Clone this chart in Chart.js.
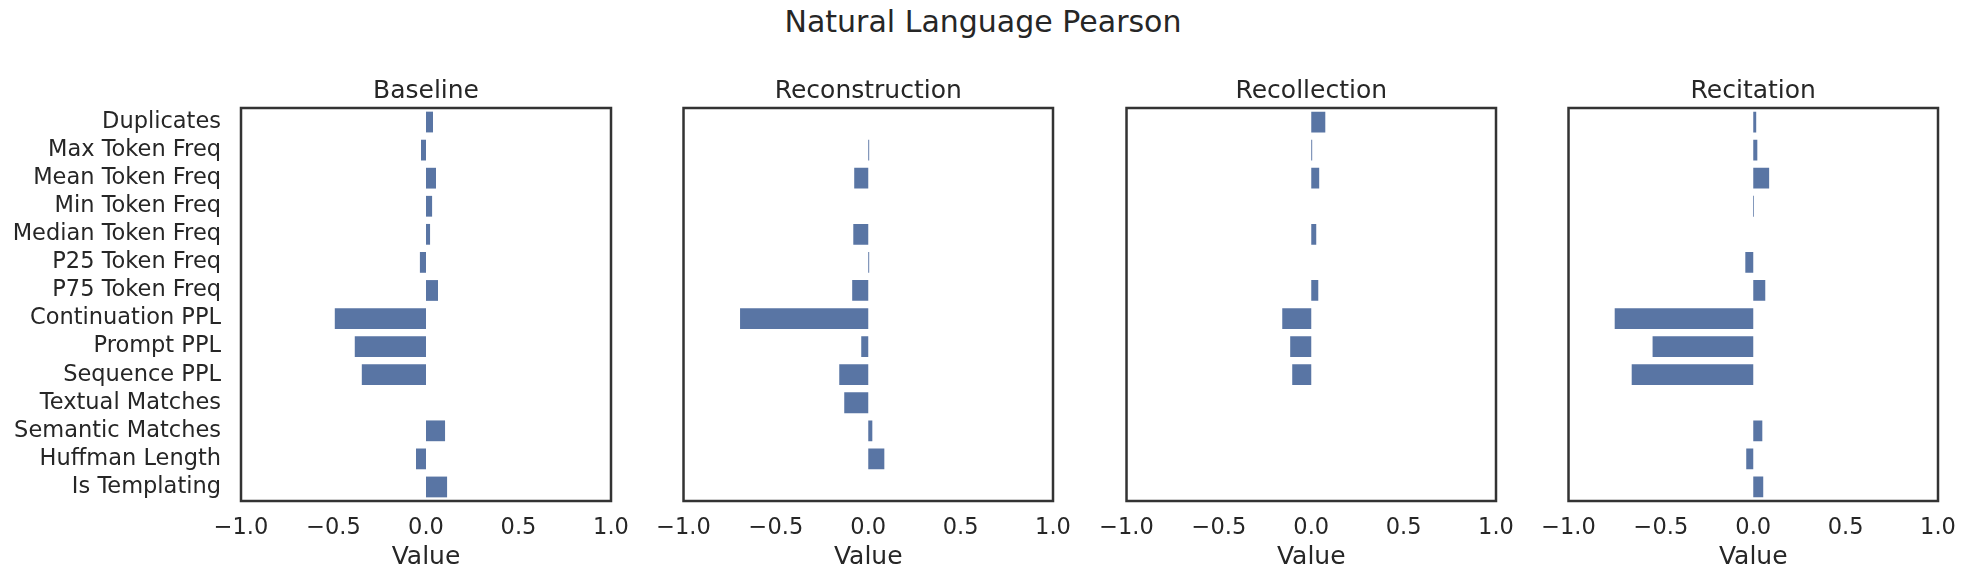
<!DOCTYPE html>
<html lang="en">
<head>
  <meta charset="UTF-8">
  <title>Natural Language Pearson</title>
  <script src="https://cdn.jsdelivr.net/npm/chart.js"></script>
  <style>
    body { margin: 0; background: #fff; }
    #page { position: relative; width: 1966px; height: 581px; overflow: hidden; font-family: 'DejaVu Sans', sans-serif; color: #262626; }
    #suptitle { position: absolute; left: 0; width: 1966px; top: 4px; line-height: 36px; font-size: 30px; text-align: center; }
    canvas { position: absolute; top: 0; }
  </style>
</head>
<body>
  <div id="page">
    <div id="suptitle">Natural Language Pearson</div>
    <canvas id="c0" width="643" height="581" style="left:0px"></canvas>
    <canvas id="c1" width="450" height="581" style="left:643px"></canvas>
    <canvas id="c2" width="450" height="581" style="left:1086px"></canvas>
    <canvas id="c3" width="450" height="581" style="left:1528px"></canvas>
  </div>

  <script>
    const features = ['Duplicates', 'Max Token Freq', 'Mean Token Freq', 'Min Token Freq', 'Median Token Freq',
      'P25 Token Freq', 'P75 Token Freq', 'Continuation PPL', 'Prompt PPL', 'Sequence PPL',
      'Textual Matches', 'Semantic Matches', 'Huffman Length', 'Is Templating'];
    const panelTitles = ['Baseline', 'Reconstruction', 'Recollection', 'Recitation'];
    const xTicks = [-1, -0.5, 0, 0.5, 1];

    // Pearson correlations (null = no bar)
    const baseline = [0.038, -0.027, 0.054, 0.033, 0.022, -0.033, 0.065, -0.493, -0.385, -0.347, null, 0.103, -0.054, 0.114];
    const reconstruction = [null, 0.005, -0.076, null, -0.081, 0.005, -0.087, -0.694, -0.038, -0.157, -0.130, 0.022, 0.087, null];
    const recollection = [0.076, 0.005, 0.043, null, 0.027, null, 0.038, -0.157, -0.114, -0.103, null, null, null, null];
    const recitation = [0.016, 0.022, 0.086, 0.004, null, -0.043, 0.065, -0.750, -0.545, -0.658, null, 0.049, -0.038, 0.054];
    const series = [baseline, reconstruction, recollection, recitation];

    const textColor = '#262626';
    const barColor = '#5975a4';

    // box around the plot area + panel title centred over it
    const frame = {
      id: 'frame',
      afterDraw(chart, args, opts) {
        const a = chart.chartArea;
        const ctx = chart.ctx;
        ctx.save();
        ctx.strokeStyle = '#333333';
        ctx.lineWidth = 2.5;
        ctx.strokeRect(a.left, a.top, a.right - a.left, a.bottom - a.top);
        ctx.fillStyle = textColor;
        ctx.font = '25px "DejaVu Sans"';
        ctx.textAlign = 'center';
        ctx.textBaseline = 'middle';
        ctx.fillText(opts.text, (a.left + a.right) / 2, 91.8);
        ctx.restore();
      }
    };

    function fmt(v) {
      return v.toFixed(1).replace('-', '\u2212');
    }

    series.forEach((data, i) => {
      const first = i === 0;
      new Chart(document.getElementById('c' + i), {
        type: 'bar',
        data: {
          labels: features,
          datasets: [{
            data: data,
            backgroundColor: barColor,
            borderWidth: 0,
            categoryPercentage: 1,
            barPercentage: 0.74
          }]
        },
        options: {
          indexAxis: 'y',
          responsive: false,
          animation: false,
          layout: { padding: { left: first ? 0 : 40, right: first ? 32 : 40, top: 108, bottom: 0 } },
          plugins: {
            legend: { display: false },
            tooltip: { enabled: false },
            title: { display: false },
            frame: { text: panelTitles[i] }
          },
          scales: {
            x: {
              type: 'linear',
              min: -1,
              max: 1,
              afterBuildTicks: (scale) => { scale.ticks = xTicks.map(v => ({ value: v })); },
              afterFit: (scale) => { scale.height = 80; },
              grid: { display: false, drawTicks: false },
              border: { display: false },
              ticks: {
                color: textColor,
                font: { family: 'DejaVu Sans', size: 22.5 },
                padding: 13.2,
                autoSkip: false,
                maxRotation: 0,
                callback: (v) => fmt(v)
              },
              title: {
                display: true,
                text: 'Value',
                color: textColor,
                font: { family: 'DejaVu Sans', size: 25 },
                padding: { top: 4, bottom: 9 }
              }
            },
            y: {
              display: first,
              afterFit: (scale) => { scale.width = first ? 241 : 0; },
              grid: { display: false, drawTicks: false },
              border: { display: false },
              ticks: {
                color: textColor,
                font: { family: 'DejaVu Sans', size: 22.5 },
                padding: 20,
                autoSkip: false
              }
            }
          }
        },
        plugins: [frame]
      });
    });
  </script>
</body>
</html>
